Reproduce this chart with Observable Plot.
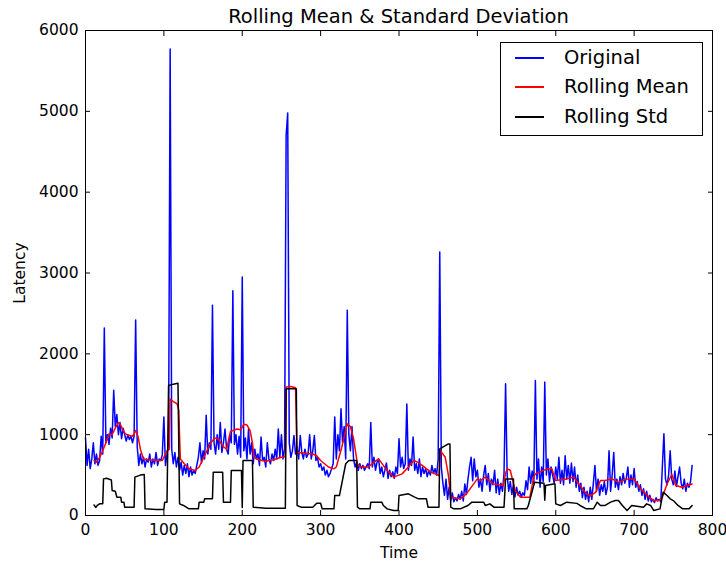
<!DOCTYPE html>
<html><head><meta charset="utf-8">
<script src="https://cdn.jsdelivr.net/npm/d3@7"></script>
<script src="https://cdn.jsdelivr.net/npm/@observablehq/plot@0.6"></script>
<style>
body{margin:0;background:#fff;font-family:"DejaVu Sans",sans-serif}
#wrap{position:relative;width:726px;height:565px}
#title{position:absolute;left:85px;width:627px;top:5px;text-align:center;font-size:19.5px;color:#000;line-height:24px}
#legend{position:absolute;left:500px;top:42px;width:201px;height:92px;border:1px solid #000;background:#fff;font-size:19.5px;color:#000}
.row{position:absolute;left:0;height:24px;width:200px}
.sw{position:absolute;left:14px;top:11px;width:29px;height:2px}
.lb{position:absolute;left:63px;top:0;line-height:24px}
</style></head>
<body>
<div id="wrap">
<div id="title">Rolling Mean &amp; Standard Deviation</div>
<div id="chart"></div>
<div id="legend"></div>
</div>
<script>
// Original series, one value every 2 time units starting at t = 0
const tStep = 2;
const original = [
960,620,820,580,700,900,640,760,620,680,
980,760,2320,900,1000,880,1080,960,1550,1100,
1250,1000,1150,950,1080,1000,920,1000,940,980,
900,980,2420,850,620,760,640,720,600,700,
660,760,600,700,640,780,620,700,680,750,
1220,620,760,900,5770,820,640,780,600,720,
560,660,500,620,520,640,480,600,500,560,
520,620,720,900,650,800,700,1240,760,900,
820,2600,900,760,1000,820,1150,780,900,1070,
820,760,1000,900,2780,880,1000,760,980,720,
2950,800,960,700,1070,760,900,640,820,700,
760,620,970,680,720,600,900,700,640,760,
680,820,700,1070,720,1000,700,820,4700,4980,
900,720,800,990,760,850,700,990,780,700,
820,720,760,1000,700,800,990,680,720,600,
640,560,600,500,560,480,520,580,640,1220,
700,1000,800,1320,900,1100,700,2540,1000,800,
1100,700,600,660,560,640,580,620,560,600,
640,580,1150,600,720,560,660,700,520,600,
480,560,650,460,560,480,540,460,600,520,
950,600,720,580,640,1380,560,700,620,970,
560,640,520,700,480,600,520,580,480,560,
500,620,520,580,500,700,3260,600,400,250,
450,200,350,180,280,170,220,180,260,200,
300,180,390,260,450,600,720,430,700,480,
560,350,450,300,500,620,380,520,300,450,
380,560,280,450,260,400,300,520,1630,500,
300,420,260,380,230,350,250,300,230,280,
250,430,320,600,400,550,400,1670,450,700,
350,600,420,1650,500,700,420,600,500,400,
600,450,720,400,560,380,740,450,620,400,
650,420,600,350,500,300,400,220,350,200,
300,170,350,200,400,620,300,450,250,380,
300,420,260,350,800,300,500,780,350,450,
320,480,380,520,400,460,600,350,500,380,
580,350,420,300,380,250,330,200,300,180,
250,170,200,160,220,180,200,170,600,1010,
450,380,500,800,450,380,550,360,480,600,
400,330,450,300,400,350,420,620
];
// Rolling mean vertices
const meanT = [11,14,18,22,26,30,34,38,42,45,48,51,56,60,64,67,70,74,80,90,98,104,107,108,112,117,119,121,126,132,140,145,150,157,
160,165,170,175,180,185,193,198,202,206,210,213,215,220,230,240,250,255,256,262,268,270,280,290,295,300,310,317,
320,327,334,338,342,347,351,361,368,374,380,385,393,404,412,419,425,430,440,446,451,453,459,463,466,478,
486,500,504,510,521,533,536,538,542,548,555,567,572,574,580,589,595,600,614,623,631,639,
644,651,657,663,672,680,690,700,708,719,725,732,736,742,748,753,761,774];
const meanV = [680,660,720,800,900,1010,1000,1080,1150,1120,1050,1010,990,980,1050,980,820,700,690,680,680,800,820,1440,1410,1380,1300,700,640,577,556,600,700,845,
900,960,940,860,820,1040,1070,1060,1130,1120,1050,900,720,690,670,690,720,730,1590,1595,1580,780,770,760,740,680,600,577,
600,845,1133,1100,950,640,600,600,660,700,620,556,475,515,600,680,650,618,540,515,495,800,720,500,227,206,
268,453,433,474,390,371,520,577,560,309,227,227,480,515,540,577,577,433,453,474,371,268,
240,289,433,433,453,410,450,453,330,227,185,185,227,390,507,371,350,390];
// Rolling std vertices
const stdT = [11,13,15,18,22,23,27,33,34,38,40,45,46,49,50,62,63,70,75,76,90,100,101,104,106,112,118,120,125,132,144,145,151,152,159,
162,163,175,176,185,186,199,200,201,213,214,230,255,256,269,270,275,290,295,300,302,317,
318,324,332,336,346,347,350,363,364,378,380,385,393,399,400,412,420,425,435,437,451,452,463,465,466,470,478,
488,493,508,510,516,521,534,536,546,547,563,565,573,585,586,587,597,599,600,606,614,627,631,639,
648,653,657,663,670,676,680,685,691,697,712,716,721,725,733,737,742,746,750,756,762,770,774];
const stdV = [130,100,124,145,145,453,460,440,310,300,227,227,165,165,103,103,475,500,507,82,75,75,165,165,1608,1625,1637,144,124,82,82,165,165,206,206,
206,536,536,165,165,556,556,100,680,680,103,90,90,1567,1567,124,103,103,152,152,82,82,
247,247,640,680,680,103,82,82,165,165,124,82,62,62,247,268,227,206,206,103,103,825,886,886,103,82,82,
124,165,165,124,144,103,103,453,453,82,82,124,412,400,190,371,390,390,144,124,165,150,124,82,
82,165,124,124,165,185,185,124,62,124,103,144,124,62,82,289,247,206,185,124,82,82,124];
const xTicks = [0,100,200,300,400,500,600,700,800];
const yTicks = [0,1000,2000,3000,4000,5000,6000];
const seriesNames = ["Original","Rolling Mean","Rolling Std"];
const seriesColors = ["#0000ff","#ff0000","#000000"];

const origData = original.map((v,i)=>({t:i*tStep, v}));
const meanData = meanT.map((t,i)=>({t, v:meanV[i]}));
const stdData = stdT.map((t,i)=>({t, v:stdV[i]}));

const chart = Plot.plot({
  width:726, height:565,
  marginLeft:85, marginRight:14, marginTop:30, marginBottom:50,
  style:{fontFamily:"DejaVu Sans, sans-serif", fontSize:"15.5px", color:"#000", background:"#fff", overflow:"visible"},
  x:{domain:[0,800]},
  y:{domain:[0,6000]},
  marks:[
    Plot.line(origData,{x:"t",y:"v",stroke:seriesColors[0],strokeWidth:1.5}),
    Plot.line(meanData,{x:"t",y:"v",stroke:seriesColors[1],strokeWidth:1.5}),
    Plot.line(stdData,{x:"t",y:"v",stroke:seriesColors[2],strokeWidth:1.5}),
    Plot.frame({stroke:"#000",strokeWidth:1}),
    Plot.axisX({ticks:xTicks,tickSize:-5,tickPadding:13,tickFormat:d=>String(d),label:"Time",labelAnchor:"center",labelOffset:42,labelArrow:"none"}),
    Plot.axisX({anchor:"top",ticks:xTicks,tickSize:-5,tickFormat:()=>"",label:null}),
    Plot.axisY({ticks:yTicks,tickSize:-5,tickPadding:12,tickFormat:d=>String(d),label:"Latency",labelAnchor:"center",labelOffset:72,labelArrow:"none"}),
    Plot.axisY({anchor:"right",ticks:yTicks,tickSize:-5,tickFormat:()=>"",label:null})
  ]
});
document.getElementById("chart").appendChild(chart);

const leg = document.getElementById("legend");
const rowTops = [3,32,62];
seriesNames.forEach((n,i)=>{
  const r = document.createElement("div");
  r.className="row"; r.style.top = rowTops[i]+"px";
  const sw = document.createElement("span");
  sw.className="sw"; sw.style.backgroundColor = seriesColors[i];
  const lb = document.createElement("span");
  lb.className="lb"; lb.textContent = n;
  r.appendChild(sw); r.appendChild(lb);
  leg.appendChild(r);
});
</script>
</body></html>
